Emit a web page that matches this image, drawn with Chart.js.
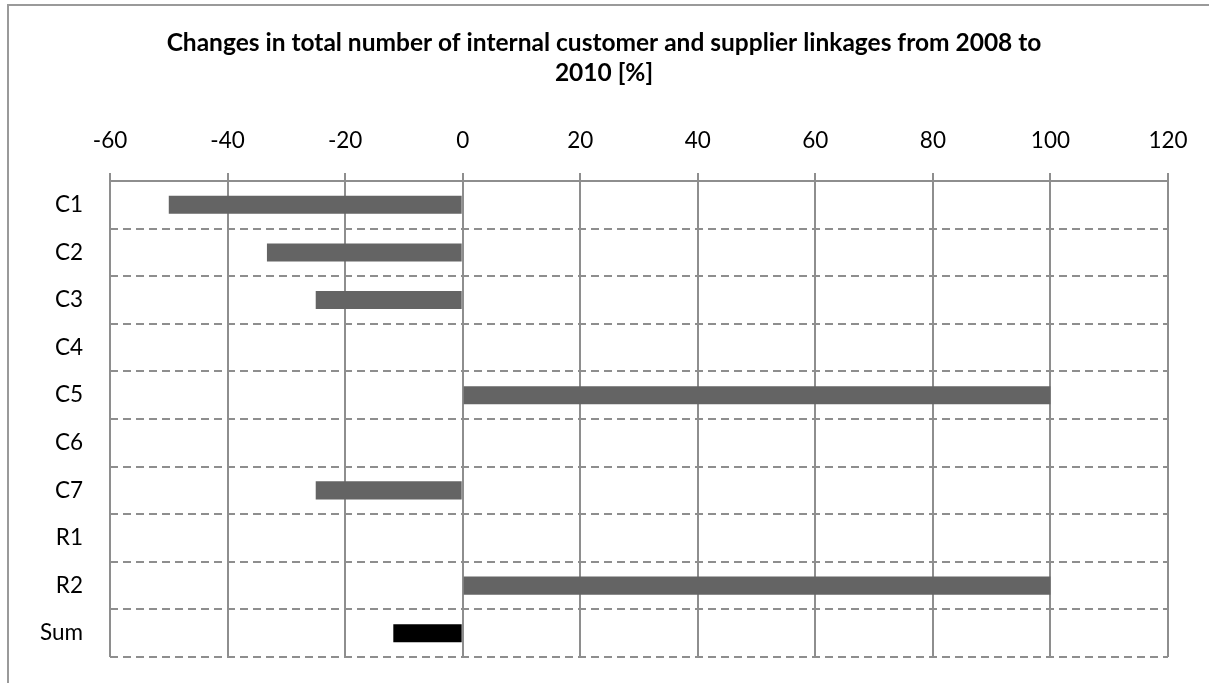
<!DOCTYPE html>
<html>
<head>
<meta charset="utf-8">
<script src="https://cdn.jsdelivr.net/npm/chart.js@4/dist/chart.umd.min.js"></script>
<style>
  html, body { margin: 0; padding: 0; background: #ffffff; overflow: hidden; }
  #frame { position: absolute; left: 7px; top: 4px; width: 1400px; height: 900px;
           border: 2px solid #9a9a9a; box-sizing: border-box; }
  #chart { position: absolute; left: 0; top: 0; }
</style>
</head>
<body>
<div id="frame"></div>
<canvas id="chart" width="1209" height="683"></canvas>
<script>
// Change in linkages between 2008 and 2010, per unit, in percent
const categories = ['C1', 'C2', 'C3', 'C4', 'C5', 'C6', 'C7', 'R1', 'R2', 'Sum'];
const changePercent = [-50, -33.3, -25, 0, 100, 0, -25, 0, 100, -11.8];
const xTicks = [-60, -40, -20, 0, 20, 40, 60, 80, 100, 120];
const titleLines = [
  'Changes in total number of internal customer and supplier linkages from 2008 to',
  '2010 [%]'
];

const gridColor = '#8e8e8e';
const barColors = categories.map(c => (c === 'Sum' ? '#000000' : '#646464'));

new Chart(document.getElementById('chart'), {
  type: 'bar',
  data: {
    labels: categories,
    datasets: [{
      data: changePercent,
      backgroundColor: barColors,
      borderWidth: 0,
      categoryPercentage: 1,
      barPercentage: 0.38
    }]
  },
  options: {
    indexAxis: 'y',
    responsive: false,
    animation: false,
    devicePixelRatio: 1,
    // symmetric side padding keeps the title centred on the canvas
    layout: { padding: { left: 20, right: 21, top: 0, bottom: 26 } },
    plugins: {
      legend: { display: false },
      tooltip: { enabled: false },
      title: {
        display: true,
        text: titleLines,
        color: '#000000',
        font: { family: 'Lato', size: 24.5, weight: 'bold', lineHeight: 1.225 },
        padding: { top: 28, bottom: 20 }
      }
    },
    scales: {
      x: {
        position: 'top',
        min: xTicks[0],
        max: xTicks[xTicks.length - 1],
        afterBuildTicks: scale => { scale.ticks = xTicks.map(v => ({ value: v })); },
        afterFit: scale => {
          scale.height = 181 - 28 - 60 - 20;
          scale.paddingLeft = 0;
          scale.paddingRight = 41;   // room to the right of the plot box
        },
        ticks: {
          color: '#000000',
          font: { family: 'Lato', size: 22.5 },
          padding: 19
        },
        grid: {
          color: gridColor,
          lineWidth: 2,
          drawTicks: true,
          tickLength: 8,
          tickColor: gridColor
        },
        border: { display: true, color: gridColor, width: 2 }
      },
      y: {
        afterFit: scale => {
          scale.width = 90;
          scale.paddingTop = 0;
          scale.paddingBottom = 0;
        },
        ticks: {
          color: '#000000',
          font: { family: 'Lato', size: 22.5 },
          padding: 27
        },
        grid: {
          offset: true,
          color: gridColor,
          lineWidth: 2,
          drawTicks: false
        },
        border: { display: false, dash: [8, 5] }
      }
    }
  }
});
</script>
</body>
</html>
